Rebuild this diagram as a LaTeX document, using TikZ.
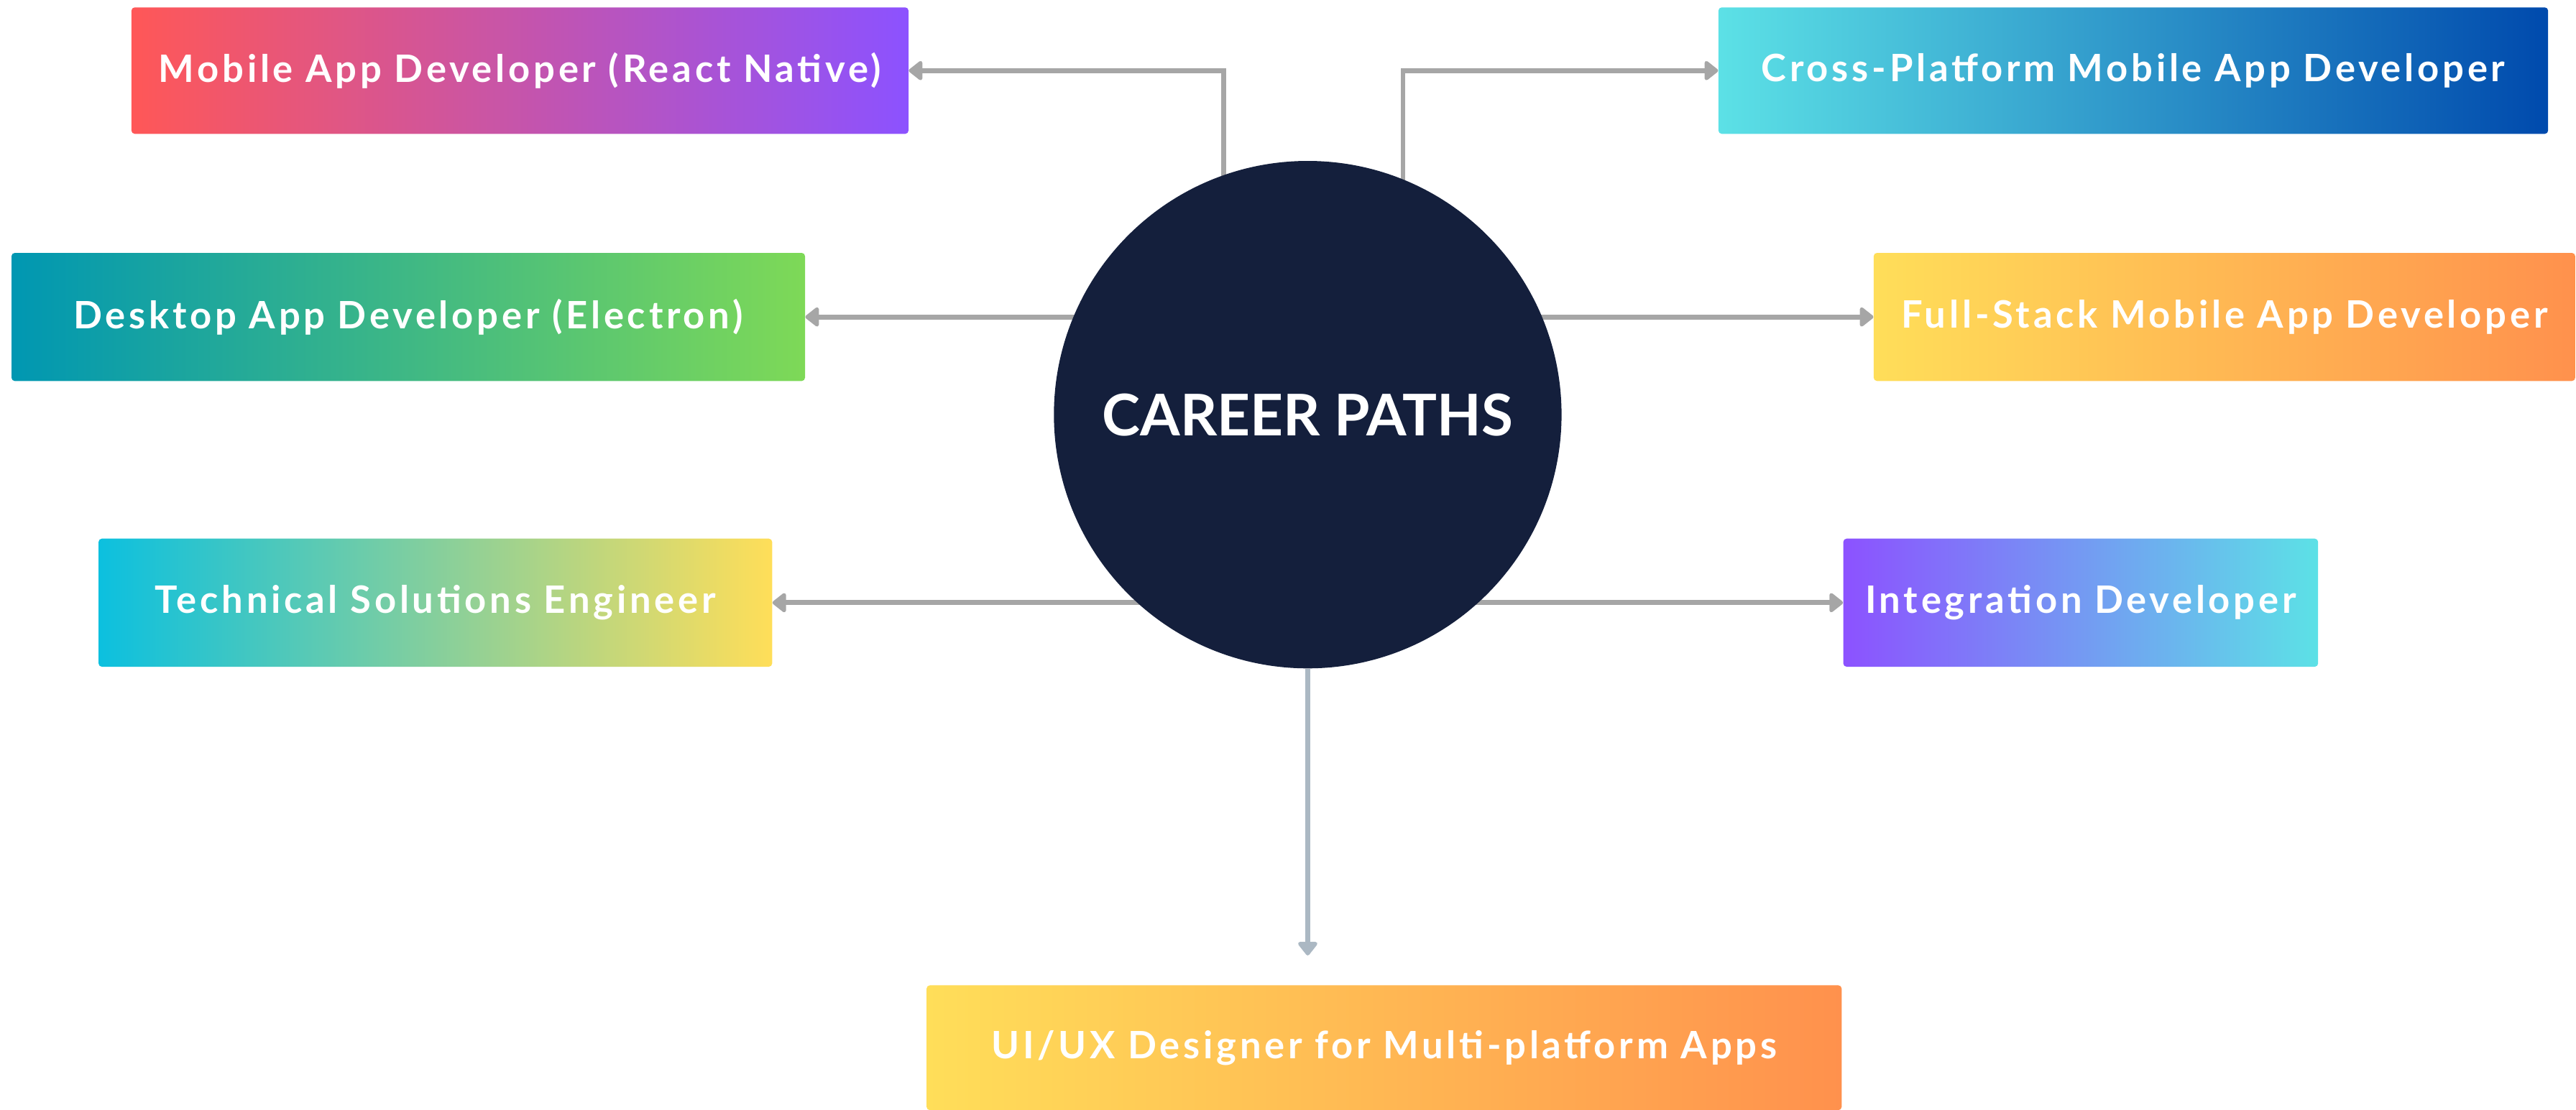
\documentclass[tikz,border=0pt]{standalone}
\usepackage{fontspec}
\setmainfont{Lato}
\newfontfamily\boxfont[LetterSpace=9]{Lato}
\usepackage{tikz}
\usetikzlibrary{calc}
\usetikzlibrary{arrows.meta}
\usetikzlibrary{backgrounds}
\definecolor{coral}{RGB}{255, 87, 87}
\definecolor{grape}{RGB}{140, 82, 255}
\definecolor{ocean}{RGB}{0, 151, 178}
\definecolor{lime}{RGB}{126, 217, 87}
\definecolor{aqua}{RGB}{12, 192, 223}
\definecolor{lemon}{RGB}{255, 222, 89}
\definecolor{tangerine}{RGB}{255, 145, 77}
\definecolor{skyteal}{RGB}{92, 225, 230}
\definecolor{royal}{RGB}{0, 74, 173}
\definecolor{midnight}{RGB}{20, 31, 60}
\definecolor{wire}{RGB}{166, 166, 166}
\definecolor{slate}{RGB}{171, 184, 195}

\begin{document}
\begin{tikzpicture}[x=1pt, y=-1pt,
    pathbox/.style={rectangle, rounded corners=2pt, inner sep=0pt, text=white,
                    font=\boxfont\bfseries\fontsize{23}{27}\selectfont},
    hub/.style={circle, fill=midnight, minimum size=309pt, inner sep=0pt, text=white,
                font=\bfseries\fontsize{35}{40}\selectfont},
    link/.style={draw=wire, line width=3pt, -{Triangle[length=9pt, width=13.5pt, round]}}]
    \useasboundingbox (0,0) rectangle (1568,675.5);
    \node[hub]                                                                 (hub) at ( 796.0, 252.5) {CAREER PATHS};
    \node[pathbox, left color=coral,  right color=grape,     minimum width=473pt, minimum height=77pt] (rn)  at ( 316.5,  43.0) {Mobile App Developer (React Native)};
    \node[pathbox, left color=ocean,  right color=lime,      minimum width=483pt, minimum height=78pt] (el)  at ( 248.5, 193.0) {Desktop App Developer (Electron)};
    \node[pathbox, left color=aqua,   right color=lemon,     minimum width=410pt, minimum height=78pt] (tse) at ( 265.0, 367.0) {Technical Solutions Engineer};
    \node[pathbox, left color=skyteal,right color=royal,     minimum width=505pt, minimum height=77pt] (cp)  at (1298.5,  43.0) {Cross-Platform Mobile App Developer};
    \node[pathbox, left color=lemon,  right color=tangerine, minimum width=427pt, minimum height=78pt] (fs)  at (1354.0, 193.0) {Full-Stack Mobile App Developer};
    \node[pathbox, left color=grape,  right color=skyteal,   minimum width=289pt, minimum height=78pt] (int) at (1266.5, 367.0) {Integration Developer};
    \node[pathbox, left color=lemon,  right color=tangerine, minimum width=557pt, minimum height=76pt] (ux)  at ( 842.5, 638.0) {UI/UX Designer for Multi-platform Apps};
    \begin{pgfonlayer}{background}
        \draw[link] ($(hub.center)+(-51,0)$) |- (rn.east);
        \draw[link] ($(hub.center)+( 58,0)$) |- (cp.west);
        \draw[link] (hub.center |- el.east)  -- (el.east);
        \draw[link] (hub.center |- fs.west)  -- (fs.west);
        \draw[link] (hub.center |- tse.east) -- (tse.east);
        \draw[link] (hub.center |- int.west) -- (int.west);
        \draw[link, draw=slate, shorten >=18pt] (hub.south) -- (hub.south |- ux.north);
    \end{pgfonlayer}
\end{tikzpicture}
\end{document}
